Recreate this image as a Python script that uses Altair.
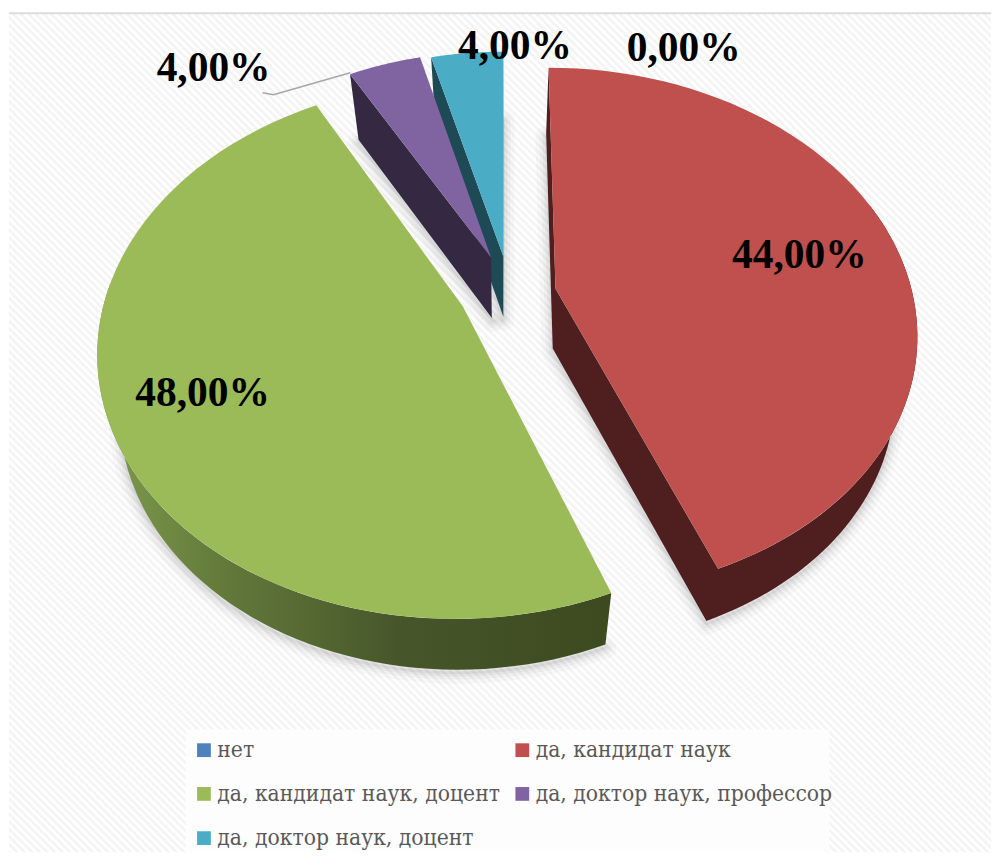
import math
import numpy as np
import altair as alt

# ---------- data ----------
categories = ["нет", "да, кандидат наук", "да, кандидат наук, доцент",
              "да, доктор наук, профессор", "да, доктор наук, доцент"]
shares = [0.0, 44.0, 48.0, 4.0, 4.0]
top_colors = ["#4f81bd", "#c0504d", "#9bbb59", "#8064a2", "#4bacc6"]
wall_colors = ["#2a4566", "#4f1e1e", "#3d4a20", "#342842", "#1d4a55"]
legend_order = [0, 2, 4, 1, 3]

# ---------- layout of the tilted pie ----------
X0, Y0, R, RC, P = 505, 295, 358, 259, 0.16
SX, VY, SY = 0.945, 2505, 0.973
offsets = [(0, 0), (0.142, 0.025), (-0.117, -0.043), (-0.04, 0.15), (-0.005, 0.155)]
radius = [1, 1, 1, 0.96, 0.955]
label_xy = [(684, 48), (800, 256), (202, 394), (213, 68), (515, 46)]
XMAX, YMAX = 992, 853
XS = alt.Scale(domain=[8, XMAX], nice=False, zero=False)
YS = alt.Scale(domain=[8, YMAX], reverse=True, nice=False, zero=False)
W, H = XMAX - 8, YMAX - 8


def proj(wx, wy):
    f = 1 / (1 + P * wy)
    return X0 + R * wx * f, Y0 - RC * wy * f


def rim(i, t):
    ox, oy = offsets[i]
    return proj(ox + radius[i] * math.sin(t), oy + radius[i] * math.cos(t))


def apex(i):
    return proj(*offsets[i])


def drop(pt):
    return X0 + (pt[0] - X0) * SX, VY + (pt[1] - VY) * SY


def arc(i, a, b, n=60):
    return [rim(i, t) for t in np.linspace(a, b, n)]


def rows(pts):
    return [{"x": float(p[0]), "y": float(p[1]), "i": k} for k, p in enumerate(pts)]


def poly_rows(pts):
    return rows(list(pts) + [pts[0]])


def wall(chain):
    return chain + [drop(p) for p in reversed(chain)]


def enc():
    return dict(x=alt.X("x:Q", scale=XS, axis=None),
                y=alt.Y("y:Q", scale=YS, axis=None),
                order="i:Q")


def poly(pts, **mark):
    return alt.Chart(alt.Data(values=poly_rows(pts))).mark_line(strokeWidth=0, **mark).encode(**enc())


# angle spans from the shares
bounds = np.cumsum([0.0] + shares) / 100 * 2 * math.pi
spans = [(bounds[i], bounds[i + 1]) for i in range(5)]

# ---------- background ----------
hatch_x = np.arange(-900, 1000, 7.6)
hatch = alt.Chart(alt.Data(values=[
    {"x": float(v), "x2": float(v + 860), "y": 13.0, "y2": 873.0} for v in hatch_x
])).mark_rule(stroke="#f4f4f4", strokeWidth=2.8, clip=True).encode(
    x=alt.X("x:Q", scale=XS, axis=None), x2="x2:Q",
    y=alt.Y("y:Q", scale=YS, axis=None), y2="y2:Q",
)
frame = alt.Chart(alt.Data(values=[{"x": 8, "x2": XMAX, "y": 12.3}])).mark_rule(
    stroke="#dcdcdc", strokeWidth=2).encode(
    x=alt.X("x:Q", scale=XS, axis=None), x2="x2:Q", y=alt.Y("y:Q", scale=YS, axis=None))
legend_box = alt.Chart(alt.Data(values=[{"x": 185, "x2": 830, "y": 730, "y2": YMAX}])).mark_rect(
    fill="#fdfdfd").encode(
    x=alt.X("x:Q", scale=XS, axis=None), x2="x2:Q",
    y=alt.Y("y:Q", scale=YS, axis=None), y2="y2:Q")

# ---------- walls ----------
red, green, purple, teal = 1, 2, 3, 4
wall_chains = {
    red: [rim(red, spans[red][0]), apex(red)] + arc(red, spans[red][1], math.radians(70)),
    green: arc(green, spans[green][0], math.radians(275)),
    purple: [rim(purple, spans[purple][0]), apex(purple)],
    teal: [rim(teal, spans[teal][0]), apex(teal), rim(teal, spans[teal][1])],
}
tops = {i: [apex(i)] + arc(i, *spans[i]) for i in (red, green, purple, teal)}

shadow_layers = []
for i in (red, green, purple, teal):
    under = [(p[0], p[1] + 3) for p in (drop(q) for q in wall_chains[i])]
    for w, a in ((22, 0.025), (14, 0.03), (8, 0.04), (3, 0.05)):
        shadow_layers.append(
            alt.Chart(alt.Data(values=rows(under))).mark_line(
                stroke="#000000", strokeWidth=w, strokeOpacity=a, strokeJoin="round",
                strokeCap="round").encode(**enc()))

green_side = alt.Gradient(
    gradient="linear", x1=0, x2=1, y1=0, y2=0,
    stops=[alt.GradientStop(offset=0, color="#7f9c4e"),
           alt.GradientStop(offset=0.25, color="#62793a"),
           alt.GradientStop(offset=0.6, color="#46552a"),
           alt.GradientStop(offset=1, color="#3d4a20")])

wall_layers = [
    poly(wall(wall_chains[teal]), fill=wall_colors[teal]),
    poly(wall(wall_chains[purple]), fill=wall_colors[purple]),
    poly(wall(wall_chains[red]), fill=wall_colors[red]),
    poly(wall(wall_chains[green]), fill=green_side),
]

# ---------- slice tops with the legend ----------
top_rows = []
for i, cat in enumerate(categories):
    pts = tops.get(i, [apex(i), apex(i), apex(i)])
    for r in poly_rows(pts):
        r["cat"] = cat
        top_rows.append(r)

top_layer = alt.Chart(alt.Data(values=top_rows)).mark_line(strokeWidth=0).encode(
    fill=alt.Fill("cat:N",
                  scale=alt.Scale(domain=[categories[k] for k in legend_order],
                                  range=[top_colors[k] for k in legend_order]),
                  sort=[categories[k] for k in legend_order],
                  legend=alt.Legend(
                      title=None, orient="none", legendX=174, legendY=721, columns=2,
                      symbolType="square", symbolSize=190, symbolStrokeWidth=0,
                      labelFont="DejaVu Serif Condensed", labelFontSize=22.7, labelColor="#595959",
                      labelOffset=2, labelLimit=400, rowPadding=20.3, columnPadding=10,
                      padding=10)),
    **enc(),
)

# ---------- leader and value labels ----------
leader_pts = [(262, 92), (273, 94), (350, 72)]
leader = alt.Chart(alt.Data(values=rows(leader_pts))).mark_line(
    stroke="#a6a6a6", strokeWidth=1.5).encode(**enc())

label_rows = [{"x": xy[0], "y": xy[1], "t": f"{v:.2f}".replace(".", ",") + "%"}
              for xy, v in zip(label_xy, shares)]
labels = alt.Chart(alt.Data(values=label_rows)).mark_text(
    font="Liberation Serif", fontWeight="bold", fontSize=41.5, color="#000000",
    align="center", baseline="middle").encode(
    x=alt.X("x:Q", scale=XS, axis=None), y=alt.Y("y:Q", scale=YS, axis=None), text="t:N")

chart = alt.layer(hatch, frame, legend_box, *shadow_layers, *wall_layers, top_layer, leader, labels).properties(
    width=W, height=H, padding=0, background="#ffffff"
).configure_view(stroke=None)

chart.save("out.html", embed_options={"renderer": "svg", "actions": False})
